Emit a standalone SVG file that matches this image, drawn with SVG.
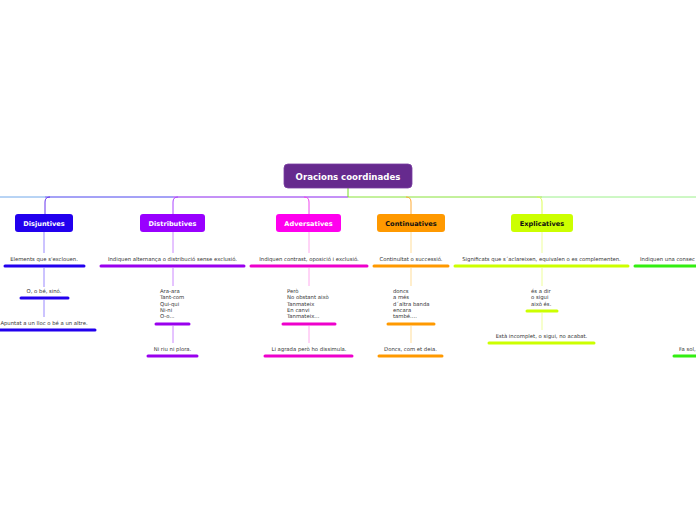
<svg xmlns="http://www.w3.org/2000/svg" width="696" height="520" viewBox="0 0 696 520">
<style>
.t{font-family:"DejaVu Sans",Verdana,sans-serif;font-size:5.3px;fill:#333}
.tc{text-anchor:middle}
.nl{font-family:"DejaVu Sans",Verdana,sans-serif;font-size:6.6px;font-weight:bold;text-anchor:middle}
.u{stroke-width:3;stroke-linecap:round;fill:none}
.c{fill:none;stroke-width:1}
</style>
<rect width="696" height="520" fill="#fff"/>
<g id="connectors">
<path class="c" d="M0 197H45" stroke="#70a8ea" stroke-width="1.6"/>
<path class="c" d="M45 197H173" stroke="#4a44ee" stroke-width="1.6"/>
<path class="c" d="M173 197H348" stroke="#8a22ee" stroke-width="1.6"/>
<path class="c" d="M348 197H542" stroke="#88e238" stroke-width="1.6"/>
<path class="c" d="M542 197H696" stroke="#9cf08a" stroke-width="1.6"/>
<path class="c" d="M348 188V197" stroke="#77dd22" stroke-width="1.6"/>
<path class="c" d="M50 197Q45 197 45 202V214" stroke="#6633ee"/>
<path class="c" d="M178 197Q173 197 173 202V214" stroke="#aa44ff"/>
<path class="c" d="M304 197Q309 197 309 202V214" stroke="#ee44ee"/>
<path class="c" d="M406 197Q411 197 411 202V214" stroke="#ffaa33"/>
<path class="c" d="M537 197Q542 197 542 202V214" stroke="#ddff55"/>
<path class="c" d="M44 232V253" stroke="#9988ff"/>
<path class="c" d="M173 232V253" stroke="#cc88ff"/>
<path class="c" d="M309 232V253" stroke="#ffaaee"/>
<path class="c" d="M411 232V253" stroke="#ffdd99"/>
<path class="c" d="M542 232V253" stroke="#eeff99"/>
<path class="c" d="M44 268V287" stroke="#9988ff"/>
<path class="c" d="M44 300V317" stroke="#9988ff"/>
<path class="c" d="M173 268V286" stroke="#cc88ff"/>
<path class="c" d="M173 326V343" stroke="#cc88ff"/>
<path class="c" d="M309 268V286" stroke="#ffaaee"/>
<path class="c" d="M309 326V343" stroke="#ffaaee"/>
<path class="c" d="M411 268V286" stroke="#ffdd99"/>
<path class="c" d="M411 326V343" stroke="#ffdd99"/>
<path class="c" d="M542 268V286" stroke="#eeff99"/>
<path class="c" d="M542 313V330" stroke="#eeff99"/>
</g>
<g id="root">
<rect x="284" y="164" width="128" height="24" rx="4" fill="#662a8e" stroke="#7a3ea2" stroke-width="0.8"/>
<text x="348" y="179.5" class="nl" style="font-size:8.6px" fill="#fff">Oracions coordinades</text>
</g>
<g id="disjuntives">
<rect x="15" y="214" width="58" height="18" rx="3" fill="#2200ee"/>
<text x="44" y="225.5" class="nl" fill="#fff">Disjuntives</text>
</g>
<g id="distributives">
<rect x="140" y="214" width="65" height="18" rx="3" fill="#9900ff"/>
<text x="172.5" y="225.5" class="nl" fill="#fff">Distributives</text>
</g>
<g id="adversatives">
<rect x="276" y="214" width="65" height="18" rx="3" fill="#ff00ee"/>
<text x="308.5" y="225.5" class="nl" fill="#fff">Adversatives</text>
</g>
<g id="continuatives">
<rect x="377" y="214" width="68" height="18" rx="3" fill="#ff9900"/>
<text x="411" y="225.5" class="nl" fill="#111">Continuatives</text>
</g>
<g id="explicatives">
<rect x="511" y="214" width="62" height="18" rx="3" fill="#ccff00"/>
<text x="542" y="225.5" class="nl" fill="#111">Explicatives</text>
</g>
<g id="disj-def">
<text x="44" y="261" class="t tc">Elements que s'exclouen.</text>
<path class="u" d="M5 266H84" stroke="#2200ee"/>
</g>
<g id="disj-ex">
<text x="44" y="293" class="t tc">O, o bé, sinó.</text>
<path class="u" d="M21 298H68" stroke="#2200ee"/>
</g>
<g id="disj-ex2">
<text x="44" y="325" class="t tc">Apuntat a un lloc o bé a un altre.</text>
<path class="u" d="M0 330H95" stroke="#2200ee"/>
</g>
<g id="dist-def">
<text x="172.5" y="261" class="t tc">Indiquen alternança o distribució sense exclusió.</text>
<path class="u" d="M101 266H244" stroke="#9900ee"/>
</g>
<g id="dist-ex">
<text class="t" x="160" y="293"><tspan x="160">Ara-ara</tspan><tspan x="160" dy="6.3">Tant-com</tspan><tspan x="160" dy="6.3">Qui-qui</tspan><tspan x="160" dy="6.3">Ni-ni</tspan><tspan x="160" dy="6.3">O-o...</tspan></text>
<path class="u" d="M156 324H189" stroke="#9900ee"/>
</g>
<g id="dist-ex2">
<text x="172.5" y="351" class="t tc">Ni riu ni plora.</text>
<path class="u" d="M148 356H197" stroke="#9900ee"/>
</g>
<g id="adv-def">
<text x="309" y="261" class="t tc">Indiquen contrast, oposició i exclusió.</text>
<path class="u" d="M251 266H367" stroke="#ee00cc"/>
</g>
<g id="adv-ex">
<text class="t" x="287" y="293"><tspan x="287">Però</tspan><tspan x="287" dy="6.3">No obstant això</tspan><tspan x="287" dy="6.3">Tanmateix</tspan><tspan x="287" dy="6.3">En canvi</tspan><tspan x="287" dy="6.3">Tanmateix...</tspan></text>
<path class="u" d="M283 324H335" stroke="#ee00cc"/>
</g>
<g id="adv-ex2">
<text x="309" y="351" class="t tc">Li agrada però ho dissimula.</text>
<path class="u" d="M265 356H352" stroke="#ee00cc"/>
</g>
<g id="cont-def">
<text x="411" y="261" class="t tc">Continuïtat o successió.</text>
<path class="u" d="M374 266H448" stroke="#ff9900"/>
</g>
<g id="cont-ex">
<text class="t" x="393" y="293"><tspan x="393">doncs</tspan><tspan x="393" dy="6.3">a més</tspan><tspan x="393" dy="6.3">d´altra banda</tspan><tspan x="393" dy="6.3">encara</tspan><tspan x="393" dy="6.3">també....</tspan></text>
<path class="u" d="M388 324H434" stroke="#ff9900"/>
</g>
<g id="cont-ex2">
<text x="410.5" y="351" class="t tc">Doncs, com et deia.</text>
<path class="u" d="M379 356H442" stroke="#ff9900"/>
</g>
<g id="expl-def">
<text x="541.5" y="261" class="t tc">Significats que s´aclareixen, equivalen o es complementen.</text>
<path class="u" d="M455 266H628" stroke="#ccff00"/>
</g>
<g id="expl-ex">
<text class="t" x="531" y="293"><tspan x="531">és a dir</tspan><tspan x="531" dy="6.3">o sigui</tspan><tspan x="531" dy="6.3">això és.</tspan></text>
<path class="u" d="M527 311H557" stroke="#ccff00"/>
</g>
<g id="expl-ex2">
<text x="541.5" y="338" class="t tc">Està incomplet, o sigui, no acabat.</text>
<path class="u" d="M489 343H594" stroke="#ccff00"/>
</g>
<g id="cons-def">
<text x="640" y="261" class="t">Indiquen una consec</text>
<path class="u" d="M635 266H700" stroke="#33ee11"/>
</g>
<g id="cons-ex">
<text x="679" y="351" class="t">Fa sol,</text>
<path class="u" d="M674 356H700" stroke="#33ee11"/>
</g>
</svg>
